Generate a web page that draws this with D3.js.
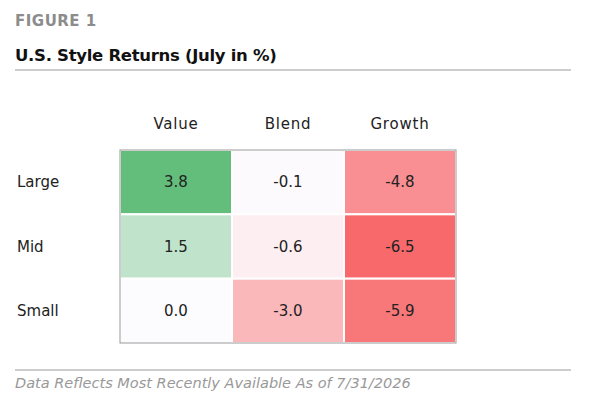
<!DOCTYPE html><html><head><meta charset="utf-8">
<script src="https://cdn.jsdelivr.net/npm/d3@7"></script>
<style>body{margin:0;background:#fff;font-family:"DejaVu Sans",sans-serif}</style></head><body>
<svg id="c" width="599" height="414"></svg>
<script>
const rows=["Large","Mid","Small"];
const cols=["Value","Blend","Growth"];
const values=[[3.8,-0.1,-4.8],[1.5,-0.6,-6.5],[0.0,-3.0,-5.9]];
const svg=d3.select("#c");
svg.append("text").attr("x",15).attr("y",26).attr("fill","#8c8c8c").attr("font-weight","bold").attr("font-size",15).attr("letter-spacing",0.5).text("FIGURE 1");
svg.append("text").attr("x",15).attr("y",61).attr("fill","#111").attr("font-weight","bold").attr("font-size",16.5).attr("letter-spacing",-0.3).text("U.S. Style Returns (July in %)");
svg.append("line").attr("x1",15).attr("x2",571).attr("y1",70).attr("y2",70).attr("stroke","#999");
svg.append("line").attr("x1",15).attr("x2",571).attr("y1",370).attr("y2",370).attr("stroke","#999");
svg.append("text").attr("x",15).attr("y",388).attr("fill","#999").attr("font-style","italic").attr("font-size",14.5).text("Data Reflects Most Recently Available As of 7/31/2026");
const x=d3.scaleBand().domain(cols).range([120,456]);
const y=d3.scaleBand().domain(rows).range([150,343]);
const flat=values.flat();
const mn=d3.min(flat),mx=d3.max(flat);
const color=v=>v>=0?d3.interpolateRgb("#fcfcff","#63be7b")(v/mx):d3.interpolateRgb("#fcfcff","#f8696b")(v/mn);
const g=svg.append("g");
rows.forEach((r,i)=>cols.forEach((c,j)=>{
 const v=values[i][j];
 g.append("rect").attr("x",x(c)).attr("y",y(r)).attr("width",x.bandwidth()).attr("height",y.bandwidth()).attr("fill",color(v)).attr("stroke","#fff").attr("stroke-width",2);
 g.append("text").attr("x",x(c)+x.bandwidth()/2).attr("y",y(r)+y.bandwidth()/2+5).attr("text-anchor","middle").attr("font-size",15).attr("fill","#222").text(v.toFixed(1));
}));
svg.append("rect").attr("x",120).attr("y",150).attr("width",336).attr("height",193).attr("fill","none").attr("stroke","#999");
cols.forEach(c=>svg.append("text").attr("x",x(c)+x.bandwidth()/2).attr("y",129).attr("text-anchor","middle").attr("font-size",15).attr("letter-spacing",0.8).attr("fill","#222").text(c));
rows.forEach(r=>svg.append("text").attr("x",17).attr("y",y(r)+y.bandwidth()/2+5).attr("font-size",15).attr("fill","#222").text(r));
</script></body></html>
